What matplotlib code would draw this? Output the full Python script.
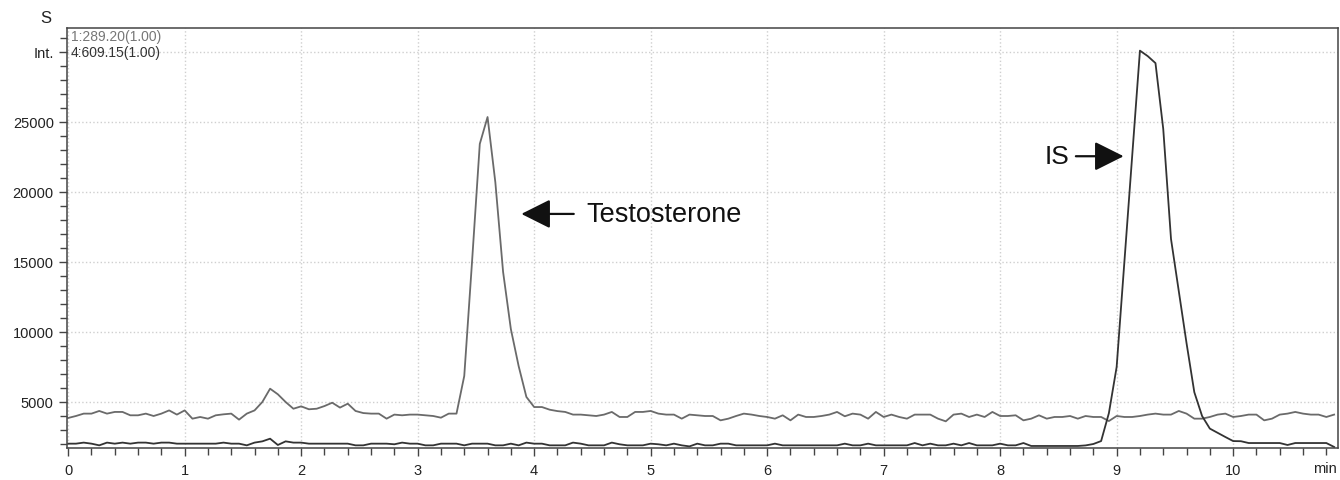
# chromatogram.py

# SIM chromatogram of testosterone (m/z 289.20) and internal standard (m/z 609.15)

import numpy as np
import matplotlib.pyplot as plt
from matplotlib import transforms

plt.rcParams[ 'font.family' ] = [ 'Liberation Sans', 'DejaVu Sans' ]

## Data (one scan every 4 s) ##
scan_step = 1 / 15.   # min

testosterone_counts = [
	3860, 4000, 4170, 4170, 4360, 4170, 4290, 4290, 4050, 4050,
	4170, 4000, 4170, 4400, 4100, 4400, 3810, 3930, 3810, 4050,
	4120, 4170, 3740, 4170, 4400, 5000, 5950, 5550, 5000, 4520,
	4690, 4480, 4520, 4710, 4950, 4600, 4880, 4360, 4210, 4170,
	4170, 3810, 4100, 4050, 4100, 4100, 4050, 4000, 3880, 4170,
	4170, 6860, 15000, 23430, 25350, 20700, 14290, 10210, 7570, 5360,
	4640, 4640, 4450, 4350, 4290, 4100, 4100, 4050, 4000, 4100,
	4290, 3930, 3930, 4290, 4290, 4360, 4170, 4100, 4100, 3810,
	4100, 4050, 4000, 4000, 3690, 3810, 4000, 4170, 4100, 4000,
	3930, 3810, 4050, 3690, 4100, 3930, 3930, 4000, 4100, 4290,
	3980, 4170, 4100, 3810, 4290, 3930, 4100, 3930, 3810, 4100,
	4100, 4100, 3810, 3620, 4100, 4170, 3930, 4100, 3930, 4290,
	4000, 4000, 4050, 3690, 3810, 4050, 3810, 3930, 3930, 4000,
	3810, 4000, 3930, 3930, 3640, 4000, 3930, 3930, 4000, 4100,
	4170, 4100, 4100, 4360, 4170, 3810, 3810, 3930, 4100, 4170,
	3930, 4000, 4100, 4100, 3690, 3810, 4100, 4170, 4290, 4170,
	4100, 4100, 3930, 4100
]

is_counts = [
	2025, 2025, 2100, 2025, 1905, 2100, 2025, 2100, 2025, 2100,
	2100, 2025, 2100, 2100, 2025, 2025, 2025, 2025, 2025, 2025,
	2100, 2025, 2025, 1905, 2100, 2190, 2380, 1930, 2190, 2100,
	2100, 2025, 2025, 2025, 2025, 2025, 2025, 1905, 1905, 2025,
	2025, 2025, 1980, 2100, 2025, 2025, 1905, 1905, 2025, 2025,
	2025, 1905, 2025, 2025, 2025, 1905, 1905, 2025, 1905, 2100,
	2025, 2025, 1905, 1905, 1905, 2100, 2025, 1905, 1905, 1905,
	2100, 1980, 1905, 1905, 1905, 2025, 1980, 1905, 2025, 1905,
	1830, 2025, 1905, 1905, 2025, 2025, 1905, 1905, 1905, 1905,
	1905, 2025, 1905, 1905, 1905, 1905, 1905, 1905, 1905, 1905,
	2025, 1905, 1905, 2025, 1905, 1905, 1905, 1905, 1905, 2070,
	1905, 2025, 1905, 1905, 2025, 1905, 2070, 1905, 1905, 1905,
	2025, 1905, 1905, 2070, 1860, 1860, 1860, 1860, 1860, 1860,
	1860, 1900, 2000, 2210, 4200, 7500, 15000, 22600, 30090, 29700,
	29200, 24500, 16640, 12900, 9200, 5700, 4000, 3100, 2800, 2500,
	2210, 2200, 2070, 2070, 2070, 2070, 2070, 1930, 2070, 2070,
	2070, 2070, 2070, 1790
]

channel_labels = [ '1:289.20(1.00)', '4:609.15(1.00)' ]
x_ticks = list( range( 0, 11 ) )
y_ticks = [ 5000, 10000, 15000, 20000, 25000, 30000 ]
y_tick_labels = [ '5000', '10000', '15000', '20000', '25000', 'Int.' ]

t_testo = np.arange( len( testosterone_counts ) ) * scan_step
t_is = np.arange( len( is_counts ) ) * scan_step

## Figure ##
fig = plt.figure( figsize = ( 13.4, 4.81 ), dpi = 100 )
ax = fig.add_axes( [ 0.050, 0.0665, 0.9485, 0.873 ] )

ax.plot( t_testo, testosterone_counts, color = '#6a6a6a', lw = 1.3 )
ax.plot( t_is, is_counts, color = '#333333', lw = 1.3 )

ax.set_xlim( -0.01, 10.9 )
ax.set_ylim( 1714, 31700 )

ax.set_xticks( x_ticks )
ax.set_xticks( np.arange( 0, 10.9, 0.2 ), minor = True )
ax.set_yticks( y_ticks )
ax.set_yticklabels( y_tick_labels )
ax.set_yticks( np.arange( 2000, 31500, 1000 ), minor = True )

ax.tick_params( which = 'both', direction = 'out', color = '#444444', width = 1.0, labelsize = 10.5, labelcolor = '#222222' )
ax.tick_params( which = 'major', length = 6 )
ax.tick_params( which = 'minor', length = 5 )
ax.tick_params( axis = 'x', pad = 5 )

ax.grid( True, which = 'major', color = '#cfcfcf', ls = ':', lw = 1.0 )
for s in ax.spines.values():
	s.set_color( '#444444' )
	s.set_linewidth( 1.1 )

## Labels ##
trans = transforms.blended_transform_factory( ax.transData, ax.transAxes )
ax.text( 10.79, -0.031, 'min', transform = trans, ha = 'center', va = 'top', fontsize = 10.5, color = '#222222' )
fig.text( 0.034, 0.962, 'S', ha = 'center', va = 'center', fontsize = 12, color = '#222222' )

ax.text( 0.003, 0.997, channel_labels[ 0 ], transform = ax.transAxes, ha = 'left', va = 'top', fontsize = 10, color = '#777777' )
ax.text( 0.003, 0.960, channel_labels[ 1 ], transform = ax.transAxes, ha = 'left', va = 'top', fontsize = 10, color = '#333333' )

## Peak annotations ##
arrow_style = dict( arrowstyle = '-|>,head_length=0.9,head_width=0.45', mutation_scale = 20, color = '#111111', lw = 1.6, shrinkA = 0, shrinkB = 0 )
ax.annotate( '', xy = ( 3.89, 18430 ), xytext = ( 4.34, 18430 ), arrowprops = arrow_style )
ax.text( 4.45, 18430, 'Testosterone', fontsize = 19.5, ha = 'left', va = 'center', color = '#111111' )

ax.annotate( '', xy = ( 9.06, 22550 ), xytext = ( 8.65, 22550 ), arrowprops = arrow_style )
ax.text( 8.59, 22550, 'IS', fontsize = 19, ha = 'right', va = 'center', color = '#111111' )

plt.savefig( 'out.png', dpi = 100 )
